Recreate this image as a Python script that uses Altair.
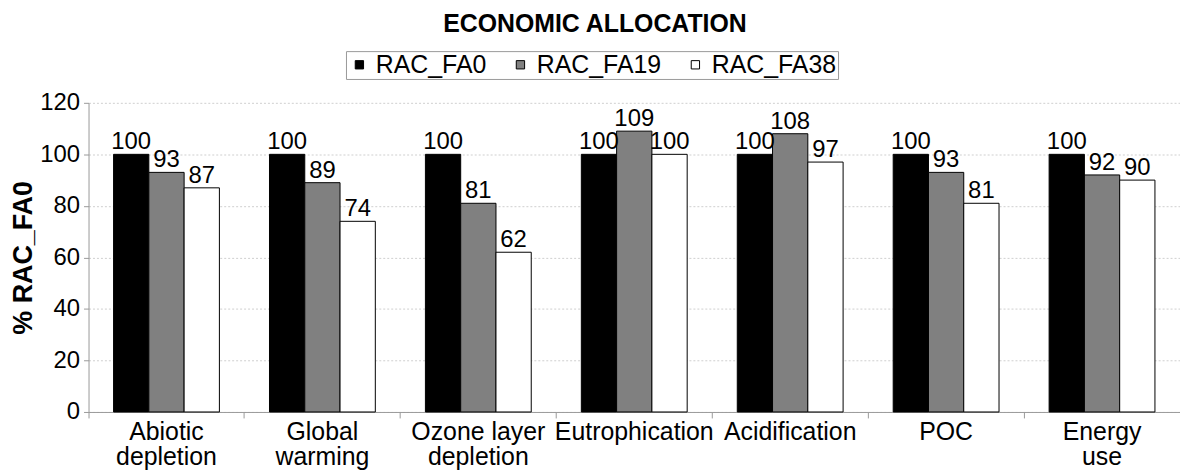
import altair as alt
import pandas as pd

categories = ["Abiotic|depletion", "Global|warming", "Ozone layer|depletion",
              "Eutrophication", "Acidification", "POC", "Energy|use"]
series = ["RAC_FA0", "RAC_FA19", "RAC_FA38"]
fa0 = [100, 100, 100, 100, 100, 100, 100]
fa19 = [93, 89, 81, 109, 108, 93, 92]
fa38 = [87, 74, 62, 100, 97, 81, 90]
colors = ["#000000", "#808080", "#ffffff"]

rows = []
for i, c in enumerate(categories):
    for s, vals in zip(series, [fa0, fa19, fa38]):
        rows.append({"cat": c, "series": s, "value": vals[i]})
df = pd.DataFrame(rows)

FONT = "Liberation Sans"

x = alt.X("cat:N", sort=categories, title=None,
          scale=alt.Scale(paddingInner=0, paddingOuter=0),
          axis=alt.Axis(labelAngle=0, labelFontSize=25, labelFont=FONT, labelColor="#000",
                        labelExpr="split(datum.label, '|')", labelLineHeight=25,
                        labelPadding=2, bandPosition=0, tickSize=6,
                        domainColor="#999", tickColor="#999", grid=False,
                        labelBaseline="top"))
xo = alt.XOffset("series:N", sort=series,
                 scale=alt.Scale(paddingInner=0, paddingOuter=0.71))
y = alt.Y("value:Q", title="% RAC_FA0",
          scale=alt.Scale(domain=[0, 120], nice=False),
          axis=alt.Axis(values=[0, 20, 40, 60, 80, 100, 120], labelFontSize=24, labelFont=FONT,
                        labelColor="#000", titleFont=FONT, titleFontSize=27,
                        titleFontWeight="bold", titleColor="#000", titlePadding=2,
                        domainColor="#999", tickColor="#999", tickSize=5,
                        gridColor="#cfcfcf", gridDash=[2, 2], labelPadding=4))

bars = alt.Chart(df).mark_bar(stroke="#000", strokeWidth=1).encode(
    x=x, xOffset=xo, y=y,
    color=alt.Color("series:N", sort=series,
                    scale=alt.Scale(domain=series, range=colors),
                    legend=alt.Legend(title=None, orient="none", direction="horizontal",
                                      legendX=259, legendY=-52,
                                      labelFontSize=25, labelFont=FONT, labelColor="#000",
                                      symbolType="square", symbolSize=70,
                                      symbolStrokeColor="#000", symbolStrokeWidth=1,
                                      columnPadding=21, labelOffset=4,
                                      strokeColor="#999", padding=1)),
)
labels = alt.Chart(df).mark_text(baseline="alphabetic", dy=-5, fontSize=24, font=FONT,
                                 color="#000").encode(
    x=x, xOffset=xo, y=y, text=alt.Text("value:Q"))

chart = alt.layer(bars, labels).properties(
    width=1098, height=311,
    title=alt.TitleParams("ECONOMIC ALLOCATION", font=FONT, fontSize=25, fontWeight="bold",
                          color="#000", anchor="middle", frame="bounds", offset=14),
    padding={"left": 1, "top": 2, "right": 0, "bottom": 0},
).configure_view(stroke=None)

chart.save("out.html", embed_options={"renderer": "svg", "actions": False})
